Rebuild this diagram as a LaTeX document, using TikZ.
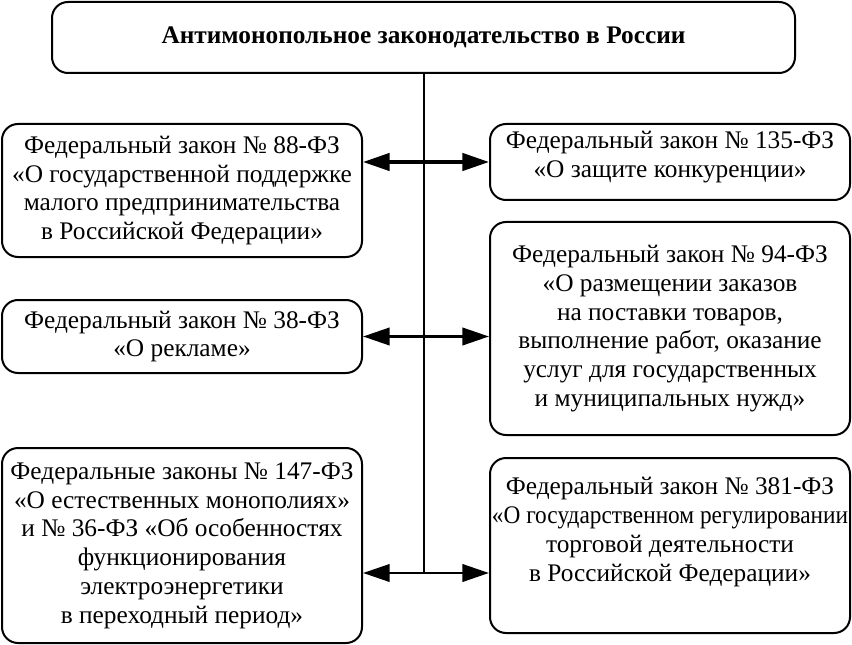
\documentclass[tikz,border=0pt]{standalone}
\usepackage{fontspec}
\setmainfont{Liberation Serif}
\usetikzlibrary{arrows.meta}
\begin{document}
\begin{tikzpicture}[x=0.75pt,y=-0.75pt,
  box/.style={draw, line width=1.5pt, rounded corners=12pt, inner sep=0pt, align=center,
    font=\fontsize{19}{21.6}\selectfont},
  txt/.style={align=center, inner sep=0pt, font=\fontsize{19}{21.6}\selectfont},
  conn/.style={{Triangle[length=20pt,width=13pt]}-{Triangle[length=20pt,width=13pt]}, line width=2.6pt},
  trunk/.style={line width=1.5pt}]
\useasboundingbox (0,0) rectangle (852,645);
\node[box, minimum width=557.25pt, minimum height=53.25pt, font=\bfseries\fontsize{19}{21.6}\selectfont] (top) at (423.5,37.5) {Антимонопольное законодательство в России};
\node[box, minimum width=270pt, minimum height=99.75pt] (L1) at (182,190.5)
  {Федеральный закон № 88-ФЗ\\«О государственной поддержке\\малого предпринимательства\\в Российской Федерации»};
\node[box, minimum width=270pt, minimum height=54.75pt] (L2) at (182,336.5)
  {Федеральный закон № 38-ФЗ\\«О рекламе»};
\node[box, minimum width=270pt, minimum height=146.25pt] (L3) at (182,545.5)
  {Федеральные законы № 147-ФЗ\\«О естественных монополиях»\\и № 36-ФЗ «Об особенностях\\функционирования\\электроэнергетики\\в переходный период»};
\node[box, minimum width=270pt, minimum height=57pt] (R1) at (670,162) {};
\node[txt] (R1t) at ([yshift=4pt]R1.center) {Федеральный закон № 135-ФЗ\\«О защите конкуренции»};
\node[box, minimum width=270pt, minimum height=159.75pt] (R2) at (670,328.5)
  {Федеральный закон № 94-ФЗ\\«О размещении заказов\\на поставки товаров,\\выполнение работ, оказание\\услуг для государственных\\и муниципальных нужд»};
\node[box, minimum width=270pt, minimum height=131.25pt] (R3) at (670,545.5) {};
\node[txt] (R3t) at ([yshift=10pt]R3.center) {Федеральный закон № 381-ФЗ\\\scalebox{0.92}[1]{«О государственном регулировании}\\торговой деятельности\\в Российской Федерации»};
\coordinate (j3) at (423.5,573);
\draw[trunk] (top.south) -- (j3);
\draw[conn] (L1.east |- R1.west) -- (R1.west);
\draw[conn, line width=2.2pt] (L2.east) -- (L2.east -| R2.west);
\draw[conn, line width=2.2pt] (L3.east |- j3) -- (R3.west |- j3);
\end{tikzpicture}
\end{document}
